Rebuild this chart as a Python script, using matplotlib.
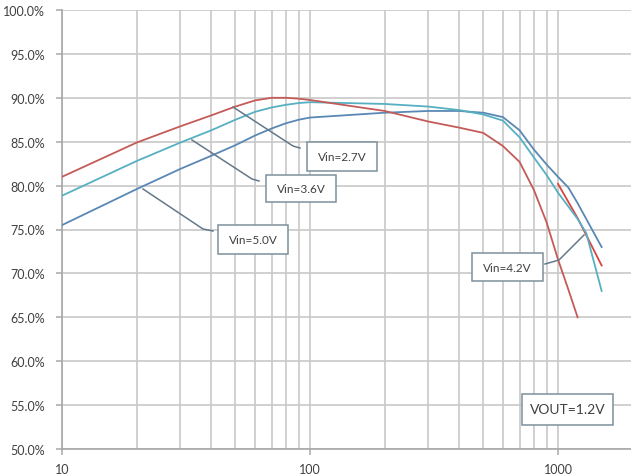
import numpy as np
import matplotlib
matplotlib.use("Agg")
import matplotlib.pyplot as plt
from matplotlib.ticker import FixedLocator, FuncFormatter, NullFormatter
from matplotlib.patches import Rectangle
from matplotlib.lines import Line2D
from matplotlib.transforms import IdentityTransform

# Efficiency (%) versus load current (mA) for several input voltages, VOUT = 1.2 V
load_27 = [10, 20, 30, 40, 50, 60, 70, 80, 90, 100, 200, 300, 400, 500, 600, 700, 800, 900, 1000, 1100, 1200]
eff_27 = [81.0, 84.9, 86.75, 88.0, 89.0, 89.7, 90.0, 90.0, 89.9, 89.75, 88.5, 87.3, 86.6, 86.0, 84.5, 82.7, 79.5, 75.8, 71.6, 68.2, 65.0]

load_36 = [10, 20, 30, 40, 50, 60, 70, 80, 90, 100, 200, 300, 400, 500, 600, 700, 800, 900, 1000, 1200, 1300, 1500]
eff_36 = [78.85, 82.8, 84.9, 86.3, 87.5, 88.4, 88.9, 89.2, 89.4, 89.5, 89.3, 89.0, 88.6, 88.1, 87.4, 85.5, 83.2, 81.2, 79.2, 76.2, 74.6, 68.0]

load_42 = [1000, 1200, 1500]
eff_42 = [80.2, 76.3, 70.9]

load_50 = [10, 20, 30, 40, 50, 60, 70, 80, 90, 100, 200, 300, 400, 500, 600, 700, 800, 900, 1000, 1100, 1200, 1500]
eff_50 = [75.5, 79.6, 81.9, 83.4, 84.6, 85.7, 86.5, 87.1, 87.5, 87.75, 88.3, 88.5, 88.5, 88.3, 87.8, 86.3, 84.1, 82.4, 81.0, 79.8, 78.0, 73.0]

y_ticks = [50, 55, 60, 65, 70, 75, 80, 85, 90, 95, 100]
x_major = [10, 100, 1000]
x_major_labels = ["10", "100", "1000"]
x_minor = [20, 30, 40, 50, 60, 70, 80, 90, 200, 300, 400, 500, 600, 700, 800, 900]

series_labels = ["Vin=2.7V", "Vin=3.6V", "Vin=4.2V", "Vin=5.0V"]
note_label = "VOUT=1.2V"

plt.rcParams["font.family"] = ["Lato", "DejaVu Sans"]

W, H = 631, 477
fig = plt.figure(figsize=(W / 100, H / 100), dpi=100)
ax = fig.add_axes([62 / W, (H - 450) / H, (W - 62) / W, (450 - 11) / H])

RED = "#c45b58"
RED2 = "#d8453f"
TEAL = "#56b0c2"
BLUE = "#5a88b4"

ax.plot(load_50, eff_50, color=BLUE, lw=1.3, zorder=3)
ax.plot(load_36, eff_36, color=TEAL, lw=1.3, zorder=4)
ax.plot(load_42, eff_42, color=RED2, lw=1.3, zorder=3)
ax.plot(load_27, eff_27, color=RED, lw=1.3, zorder=5)

ax.set_xscale("log")
ax.set_xlim(10, 1970)
ax.set_ylim(50, 100)

ax.yaxis.set_major_locator(FixedLocator(y_ticks))
ax.yaxis.set_major_formatter(FuncFormatter(lambda v, p: f"{v:.1f}%"))
ax.xaxis.set_major_locator(FixedLocator(x_major))
ax.xaxis.set_major_formatter(FuncFormatter(lambda v, p: x_major_labels[x_major.index(round(v))] if round(v) in x_major else ""))
ax.xaxis.set_minor_locator(FixedLocator(x_minor))
ax.xaxis.set_minor_formatter(NullFormatter())

GRID = "#c8c8c8"
ax.grid(which="both", axis="x", color=GRID, lw=1.2)
ax.grid(which="major", axis="y", color=GRID, lw=1.2)
ax.set_axisbelow(True)

for s in ("top", "right"):
    ax.spines[s].set_visible(False)
for s in ("left", "bottom"):
    ax.spines[s].set_color("#a8a8a8")
    ax.spines[s].set_linewidth(1.2)

ax.tick_params(axis="y", which="major", length=4, width=1.1, color="#a8a8a8",
               labelsize=9, labelcolor="#404040", pad=8)
ax.tick_params(axis="x", which="major", length=4, width=1.1, color="#a8a8a8",
               labelsize=9, labelcolor="#404040", pad=6)
ax.tick_params(axis="x", which="minor", length=0)

LEADER = "#64788a"
BOXEDGE = "#7d909c"
TEXT = "#404040"


def leader(points):
    xs = [p[0] for p in points]
    ys = [H - p[1] for p in points]
    fig.add_artist(Line2D(xs, ys, transform=IdentityTransform(), color=LEADER, lw=1.1, zorder=6))


def box(x0, y0, x1, y1, text, fs):
    fig.add_artist(Rectangle((x0, H - y1), x1 - x0, y1 - y0, transform=IdentityTransform(),
                             facecolor="white", edgecolor=BOXEDGE, lw=1.1, zorder=7))
    fig.text((x0 + x1) / 2 / W, 1 - (y0 + y1) / 2 / H, text, ha="center", va="center",
             fontsize=fs, color=TEXT, zorder=8)


leader([(233, 108), (293, 147), (300, 149)])
box(307, 143, 377, 172, series_labels[0], 8.5)

leader([(192, 141), (252, 180), (259, 182)])
box(266, 176, 336, 203, series_labels[1], 8.5)

leader([(143, 190), (203, 230), (213, 232)])
box(218, 226, 288, 255, series_labels[3], 8.5)

leader([(545, 265), (559, 261), (584, 236)])
box(472, 254, 543, 282, series_labels[2], 8.5)

box(522, 395, 613, 426, note_label, 10)

fig.savefig("out.png", dpi=100)
